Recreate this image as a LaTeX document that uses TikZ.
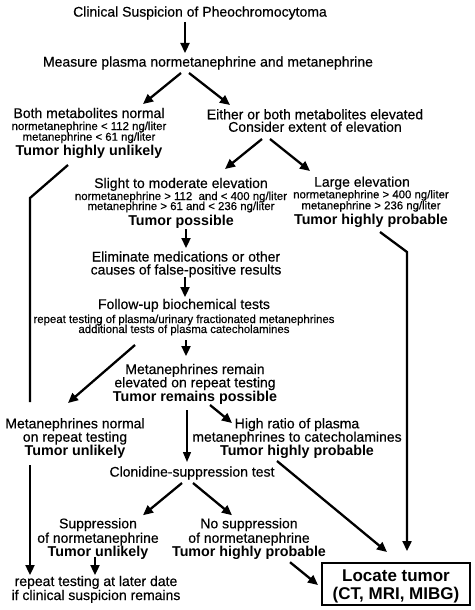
\documentclass[tikz,border=0pt]{standalone}
\usepackage{fontspec}
\setmainfont{Liberation Sans}[UprightFeatures={FakeBold=0.4}]
\usetikzlibrary{arrows.meta}
\newcommand\mfont{\fontsize{14}{16}\selectfont}
\newcommand\sfont{\fontsize{11.4}{13}\selectfont}
\newcommand\bfont{\fontsize{14.3}{16}\selectfont\bfseries}
\newcommand\lfont{\fontsize{17}{19}\selectfont\bfseries}
% a block of centred lines: each line is \lne{distance from previous baseline, pt}{text}
\newcommand\blk[1]{\vbox{\offinterlineskip\halign{\hfil##\hfil\cr#1\crcr}}}
\newcommand\lne[2]{\smash{#2}\rule{0pt}{#1pt}\cr}
\tikzset{
  txt/.style={inner sep=0pt,font=\mfont},
  arr/.style={line width=2.3pt,-{Triangle[length=10pt,width=9pt]}},
  thinarr/.style={line width=1.3pt,-{Triangle[length=10pt,width=8pt]}},
  plain/.style={line width=2.3pt,line join=miter},
  boxed/.style={draw,line width=2pt,minimum width=148pt,minimum height=42pt,inner sep=0pt,font=\lfont}
}
\begin{document}
\begin{tikzpicture}[x=1pt,y=-1pt]
\useasboundingbox[fill=white] (0,0) rectangle (474,610);
\node[txt] (clin) at (200,13) {Clinical Suspicion of Pheochromocytoma};
\node[txt] (measure) at (208,63) {Measure plasma normetanephrine and metanephrine};
\node[txt] (both) at (89,131.5) {\blk{\lne{10}{\mfont Both metabolites normal}\lne{12}{\sfont normetanephrine < 112 ng/liter}\lne{10.7}{\sfont metanephrine < 61 ng/liter}\lne{14.3}{\bfont Tumor highly unlikely}}};
\node[txt] (either) at (315,120.5) {\blk{\lne{10}{\mfont Either or both metabolites elevated}\lne{12.5}{\mfont Consider extent of elevation}}};
\node[txt] (slight) at (181,201.5) {\blk{\lne{10}{\mfont Slight to moderate elevation}\lne{12}{\sfont normetanephrine > 112\ \ and < 400 ng/liter}\lne{10}{\sfont metanephrine > 61 and < 236 ng/liter}\lne{15}{\bfont Tumor possible}}};
\node[txt] (large) at (371,200.5) {\blk{\lne{10}{\mfont \hspace*{-18pt}Large elevation}\lne{11.6}{\sfont normetanephrine > 400 ng/liter}\lne{11}{\sfont metanephrine > 236 ng/liter}\lne{15}{\bfont Tumor highly probable}}};
\node[txt] (elim) at (186,263) {\blk{\lne{10}{\mfont Eliminate medications or other}\lne{13}{\mfont causes of false-positive results}}};
\node[txt] (follow) at (184,316) {\blk{\lne{10}{\mfont Follow-up biochemical tests}\lne{14}{\sfont repeat testing of plasma/urinary fractionated metanephrines}\lne{10}{\sfont additional tests of plasma catecholamines}}};
\node[txt] (remain) at (195,382.5) {\blk{\lne{10}{\mfont Metanephrines remain}\lne{13.3}{\mfont elevated on repeat testing}\lne{13.7}{\bfont Tumor remains possible}}};
\node[txt] (normal) at (75,437) {\blk{\lne{10}{\mfont Metanephrines normal}\lne{13.4}{\mfont on repeat testing}\lne{14}{\bfont Tumor unlikely}}};
\node[txt] (ratio) at (297,437) {\blk{\lne{10}{\mfont High ratio of plasma}\lne{13.4}{\mfont metanephrines to catecholamines}\lne{14}{\bfont Tumor highly probable}}};
\node[txt] (clon) at (192,473) {Clonidine-suppression test};
\node[txt] (supp) at (98,537.2) {\blk{\lne{10}{\mfont Suppression}\lne{14.5}{\mfont of normetanephrine}\lne{13.3}{\bfont Tumor unlikely}}};
\node[txt] (nosupp) at (249,537.2) {\blk{\lne{10}{\mfont No suppression}\lne{14.5}{\mfont of normetanephrine}\lne{13.3}{\bfont Tumor highly probable}}};
\node[txt] (repeat) at (96,588) {\blk{\lne{10}{\mfont repeat testing at later date}\lne{14}{\mfont if clinical suspicion remains}}};
\node[boxed] (locate) at (396,584) {\blk{\lne{12}{\lfont Locate tumor}\lne{18}{\lfont (CT, MRI, MIBG)}}};

\draw[arr] ([shift={(-15,9)}]clin.center) -- ([shift={(-23,-10)}]measure.center);
\draw[arr] ([shift={(-27,10)}]measure.center) -- ([shift={(54,-27.5)}]both.center);
\draw[arr] ([shift={(-19,10)}]measure.center) -- ([shift={(-85,-15.5)}]either.center);
\draw[arr] ([shift={(-53,18.5)}]either.center) -- ([shift={(44,-32.5)}]slight.center);
\draw[arr] ([shift={(-45,18.5)}]either.center) -- ([shift={(-61,-29.5)}]large.center);
\draw[arr] ([shift={(5,27.5)}]slight.center) -- ([shift={(0,-15)}]elim.center);
\draw[arr] ([shift={(-1,14)}]elim.center) -- ([shift={(1,-19)}]follow.center);
\draw[arr] ([shift={(2,24)}]follow.center) -- ([shift={(-9,-26.5)}]remain.center);
\draw[arr] ([shift={(-49,29)}]follow.center) -- ([shift={(-7,-34)}]normal.center);
\draw[arr] ([shift={(15,22.5)}]remain.center) -- ([shift={(-65,-14)}]ratio.center);
\draw[thinarr] ([shift={(-8,27.5)}]remain.center) -- ([shift={(-5,-11)}]clon.center);
\draw[arr] ([shift={(-20,24)}]ratio.center) -- ([shift={(-9,-32)}]locate.center);
\draw[arr] ([shift={(-10,10)}]clon.center) -- ([shift={(45,-22)}]supp.center);
\draw[arr] ([shift={(1,10)}]clon.center) -- ([shift={(-17,-22)}]nosupp.center);
\draw[arr] ([shift={(-3,20)}]supp.center) -- ([shift={(-1,-13)}]repeat.center);
\draw[arr] ([shift={(41,25)}]nosupp.center) -- ([shift={(-78,1)}]locate.center);
\draw[plain] ([shift={(-21,33.5)}]both.center) -- ++(-38,33) -- ([shift={(-45,-35)}]normal.center);
\draw[arr] ([shift={(-45,28)}]normal.center) -- ([shift={(-66,-13)}]repeat.center);
\draw[arr,line join=miter] ([shift={(9,31.5)}]large.center) -- ++(27,20) -- ([shift={(11,-33)}]locate.center);
\end{tikzpicture}
\end{document}
